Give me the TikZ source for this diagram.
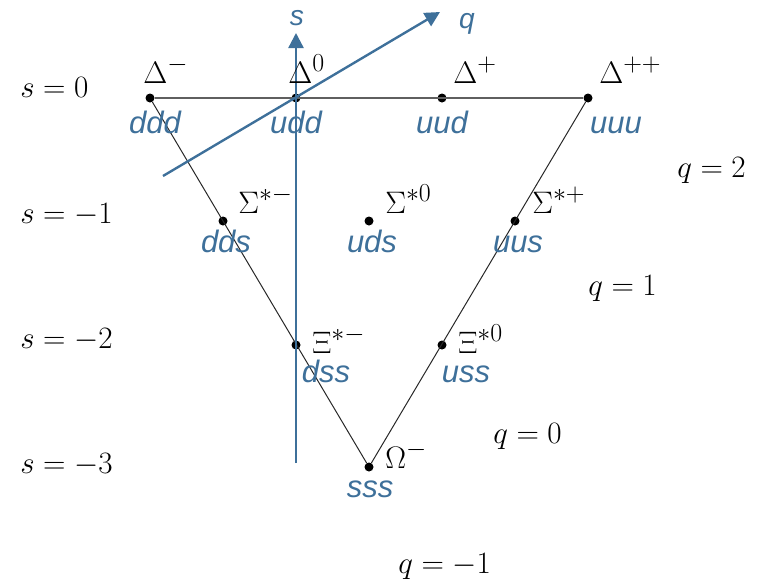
\documentclass[tikz,border=0pt]{standalone}
\usepackage{fontspec}
\newfontfamily\labfont{Liberation Sans}
\usetikzlibrary{arrows.meta}
\definecolor{axblue}{RGB}{62,112,154}
\definecolor{topgray}{RGB}{95,95,95}
\definecolor{sidegray}{RGB}{40,40,40}
\tikzset{
  dot/.style={circle, fill=black, inner sep=0pt, minimum size=7.2pt},
  mlab/.style={anchor=base west, inner sep=0pt},
  qlab/.style={anchor=base, inner sep=0pt, text=axblue, font=\fontsize{24.8}{30}\selectfont\labfont\itshape},
  axlab/.style={anchor=base, inner sep=0pt, text=axblue, font=\fontsize{22.5}{27}\selectfont\labfont\itshape},
  axisline/.style={draw=axblue, line width=1.9pt, -{Triangle[length=12pt,width=12pt]}},
  topline/.style={draw=topgray, line width=1.2pt},
  sideline/.style={draw=sidegray, line width=0.8pt}
}
\begin{document}
\begin{tikzpicture}[x=0.8pt, y=-0.8pt, font=\fontsize{24.88}{30}\selectfont]
\useasboundingbox (0,0) rectangle (767,583);
% dots
\node[dot] (dm)  at (150,98) {};
\node[dot] (d0)  at (296,98) {};
\node[dot] (dp)  at (442,98) {};
\node[dot] (dpp) at (588,98) {};
\node[dot] (sm)  at (223,221) {};
\node[dot] (s0)  at (369,221) {};
\node[dot] (sp)  at (515,221) {};
\node[dot] (xm)  at (296,345) {};
\node[dot] (x0)  at (442,345) {};
\node[dot] (om)  at (369,467) {};
% triangle
\draw[topline] (dm) -- (dpp);
\draw[sideline] (dm) -- (om);
\draw[sideline] (dpp) -- (om);
% axes
\coordinate (sbot) at (296,463);
\coordinate (stip) at (296,33);
\coordinate (qbot) at (163,176);
\coordinate (qtip) at (440,12);
\draw[axisline] (sbot) -- (stip);
\draw[axisline] (qbot) -- (qtip);
\node[axlab] (slab) at (297,25) {s};
\node[axlab] (qlabel) at (467,28) {q};
% particle names
\node[mlab] (ldm)  at (143,83) {$\Delta^-$};
\node[mlab] (ld0)  at (288,83) {$\Delta^0$};
\node[mlab] (ldp)  at (453,83) {$\Delta^+$};
\node[mlab] (ldpp) at (599,83) {$\Delta^{++}$};
\node[mlab] (lsm)  at (238,213) {$\Sigma^{*-}$};
\node[mlab] (ls0)  at (385,213) {$\Sigma^{*0}$};
\node[mlab] (lsp)  at (532,213) {$\Sigma^{*+}$};
\node[mlab] (lxm)  at (312,353) {$\Xi^{*-}$};
\node[mlab] (lx0)  at (458,353) {$\Xi^{*0}$};
\node[mlab] (lom)  at (385,468) {$\Omega^-$};
% quark contents
\node[qlab] (qddd) at (155,133) {ddd};
\node[qlab] (qudd) at (296,133) {udd};
\node[qlab] (quud) at (442,133) {uud};
\node[qlab] (quuu) at (616,133) {uuu};
\node[qlab] (qdds) at (226,252) {dds};
\node[qlab] (quds) at (372,252) {uds};
\node[qlab] (quus) at (518,252) {uus};
\node[qlab] (qdss) at (326,382) {dss};
\node[qlab] (quss) at (466,382) {uss};
\node[qlab] (qsss) at (370,497) {sss};
% strangeness rows
\node[mlab] (s0r) at (20,97)  {$s=0$};
\node[mlab] (s1r) at (20,223) {$s=-1$};
\node[mlab] (s2r) at (20,348) {$s=-2$};
\node[mlab] (s3r) at (20,473) {$s=-3$};
% charge lines
\node[mlab] (q2r) at (677,177) {$q=2$};
\node[mlab] (q1r) at (588,295) {$q=1$};
\node[mlab] (q0r) at (493,443) {$q=0$};
\node[mlab] (qm1r) at (398,573) {$q=-1$};
\end{tikzpicture}
\end{document}
